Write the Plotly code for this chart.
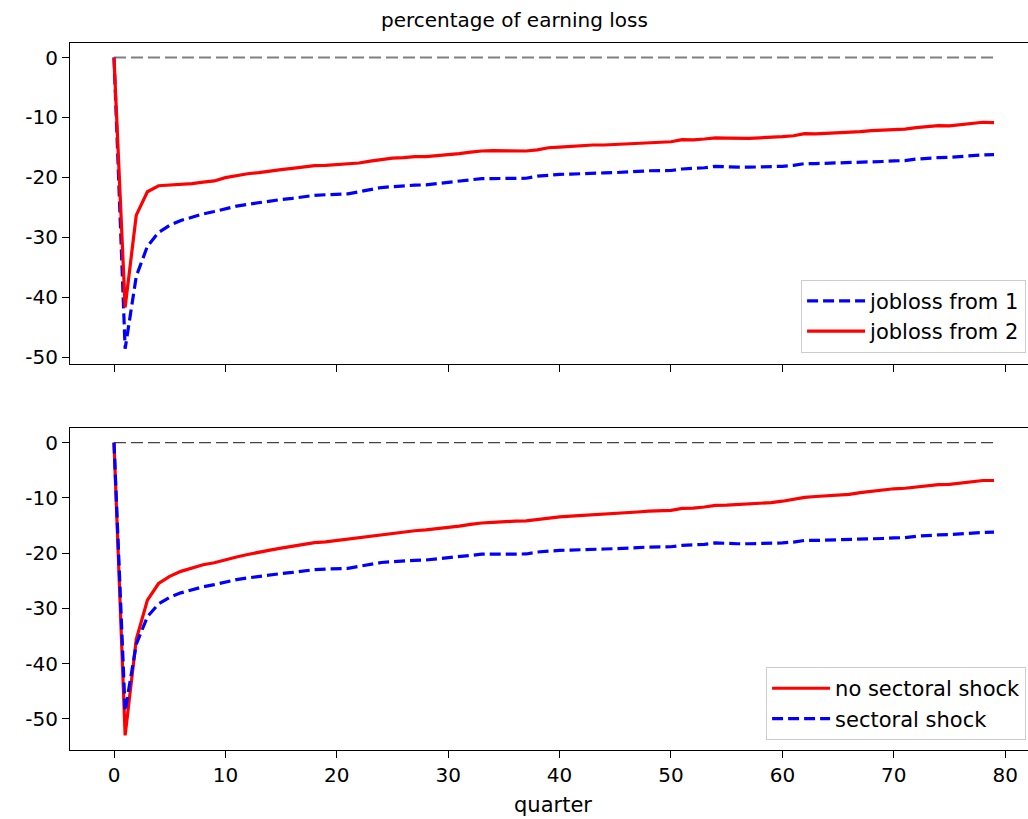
import plotly.graph_objects as go
from plotly.subplots import make_subplots

quarters = list(range(80))

jobloss_from_1 = [0, -48.6, -36.5, -31.5, -29.2, -28.0, -27.2, -26.6, -26.1, -25.7,
                  -25.2, -24.8, -24.5, -24.2, -23.9, -23.7, -23.5, -23.2, -23.0, -22.9,
                  -22.8, -22.75, -22.4, -22.05, -21.7, -21.55, -21.4, -21.3, -21.25, -21.05,
                  -20.9, -20.7, -20.4, -20.2, -20.2, -20.15, -20.1, -20.15, -19.8, -19.6,
                  -19.5, -19.45, -19.35, -19.3, -19.25, -19.2, -19.15, -19.0, -18.9, -18.85,
                  -18.85, -18.6, -18.55, -18.4, -18.15, -18.25, -18.3, -18.3, -18.25, -18.3,
                  -18.15, -18.0, -17.7, -17.7, -17.65, -17.65, -17.6, -17.5, -17.45, -17.35,
                  -17.25, -17.2, -16.95, -16.8, -16.7, -16.65, -16.5, -16.35, -16.25, -16.2]

jobloss_from_2 = [0, -41.7, -26.3, -22.4, -21.4, -21.3, -21.2, -21.05, -20.8, -20.6,
                  -20.05, -19.7, -19.4, -19.2, -18.9, -18.7, -18.5, -18.3, -18.05, -18.0,
                  -17.9, -17.8, -17.6, -17.3, -17.0, -16.8, -16.7, -16.55, -16.55, -16.4,
                  -16.2, -16.05, -15.8, -15.6, -15.55, -15.55, -15.5, -15.6, -15.4, -15.05,
                  -14.95, -14.8, -14.7, -14.6, -14.6, -14.5, -14.4, -14.3, -14.2, -14.1,
                  -14.05, -13.7, -13.75, -13.6, -13.4, -13.45, -13.5, -13.5, -13.4, -13.35,
                  -13.2, -13.05, -12.7, -12.75, -12.65, -12.6, -12.55, -12.35, -12.2, -12.15,
                  -12.0, -11.95, -11.7, -11.5, -11.35, -11.4, -11.2, -11.0, -10.8, -10.85]

no_sectoral_shock = [0, -53.0, -35.6, -28.5, -25.5, -24.2, -23.3, -22.7, -22.1, -21.75,
                     -21.15, -20.7, -20.25, -19.8, -19.45, -19.1, -18.8, -18.4, -18.1, -17.95,
                     -17.7, -17.45, -17.2, -16.9, -16.6, -16.35, -16.1, -15.95, -15.8, -15.6,
                     -15.35, -15.1, -14.8, -14.55, -14.45, -14.3, -14.2, -14.15, -13.9, -13.6,
                     -13.45, -13.3, -13.2, -13.1, -12.95, -12.85, -12.7, -12.55, -12.4, -12.35,
                     -12.25, -11.9, -11.85, -11.65, -11.35, -11.3, -11.2, -11.15, -10.95, -10.85,
                     -10.6, -10.3, -9.9, -9.75, -9.6, -9.45, -9.35, -9.05, -8.8, -8.65,
                     -8.35, -8.25, -8.0, -7.8, -7.6, -7.55, -7.3, -7.1, -6.85, -6.85]

sectoral_shock = list(jobloss_from_1)

zero_line = [0] * len(quarters)

y_ticks = [0, -10, -20, -30, -40, -50]
y_tick_labels = ["0", "-10", "-20", "-30", "-40", "-50"]
x_ticks = [0, 10, 20, 30, 40, 50, 60, 70, 80]

FONT = "DejaVu Sans"
BLUE_DASH = "11px,5px"

fig = make_subplots(rows=2, cols=1, shared_xaxes=True, vertical_spacing=0.0906)

# top panel
fig.add_trace(go.Scatter(x=quarters, y=zero_line, mode="lines", showlegend=False,
                         line=dict(color="#808080", width=2, dash="12px,5px")), row=1, col=1)
fig.add_trace(go.Scatter(x=quarters, y=jobloss_from_1, mode="lines", name="jobloss from 1",
                         legend="legend", legendgroup="a",
                         line=dict(color="#0000ff", width=3.2, dash=BLUE_DASH)), row=1, col=1)
fig.add_trace(go.Scatter(x=quarters, y=jobloss_from_2, mode="lines", name="jobloss from 2",
                         legend="legend", legendgroup="b",
                         line=dict(color="#ff0000", width=3.2)), row=1, col=1)

# bottom panel
fig.add_trace(go.Scatter(x=quarters, y=zero_line, mode="lines", showlegend=False,
                         line=dict(color="#444444", width=1.3, dash="12px,5px")), row=2, col=1)
fig.add_trace(go.Scatter(x=quarters, y=no_sectoral_shock, mode="lines", name="no sectoral shock",
                         legend="legend2", legendgroup="c",
                         line=dict(color="#ff0000", width=3.2)), row=2, col=1)
fig.add_trace(go.Scatter(x=quarters, y=sectoral_shock, mode="lines", name="sectoral shock",
                         legend="legend2", legendgroup="d",
                         line=dict(color="#0000ff", width=3.2, dash=BLUE_DASH)), row=2, col=1)

axis_common = dict(showline=True, linecolor="black", linewidth=1.2, ticks="outside",
                   ticklen=7, tickwidth=1.2, tickcolor="black", showgrid=False, zeroline=False,
                   tickfont=dict(family=FONT, size=20, color="black"))

fig.update_xaxes(range=[-3.95, 82.05], tickvals=x_ticks, mirror=True, **axis_common)
fig.update_xaxes(showticklabels=False, row=1, col=1)
fig.update_yaxes(tickvals=y_ticks, ticktext=y_tick_labels, mirror=False, **axis_common)
fig.update_yaxes(range=[-51.15, 2.43], row=1, col=1)
fig.update_yaxes(range=[-55.65, 2.65], row=2, col=1)

fig.update_layout(yaxis=dict(domain=[0.546, 1.0]), yaxis2=dict(domain=[0.0, 0.4554]))

legend_common = dict(font=dict(family=FONT, size=21, color="black"), bgcolor="white",
                     bordercolor="#cccccc", borderwidth=1, xanchor="right", yanchor="bottom",
                     itemwidth=58, tracegroupgap=0)

fig.update_layout(
    width=1028, height=819,
    margin=dict(l=70, r=0, t=43, b=69),
    paper_bgcolor="white", plot_bgcolor="white",
    font=dict(family=FONT, color="black"),
    legend=dict(x=0.998, y=0.562, **legend_common),
    legend2=dict(x=0.998, y=0.014, **legend_common),
    annotations=[
        dict(text="percentage of earning loss", xref="paper", yref="paper", x=0.4635, y=1.0325,
             xanchor="center", yanchor="middle", showarrow=False,
             font=dict(family=FONT, size=20, color="black")),
        dict(text="quarter", xref="paper", yref="paper", x=0.504, y=-0.0778,
             xanchor="center", yanchor="middle", showarrow=False,
             font=dict(family=FONT, size=21, color="black")),
    ],
)

fig.write_html("out.html")
